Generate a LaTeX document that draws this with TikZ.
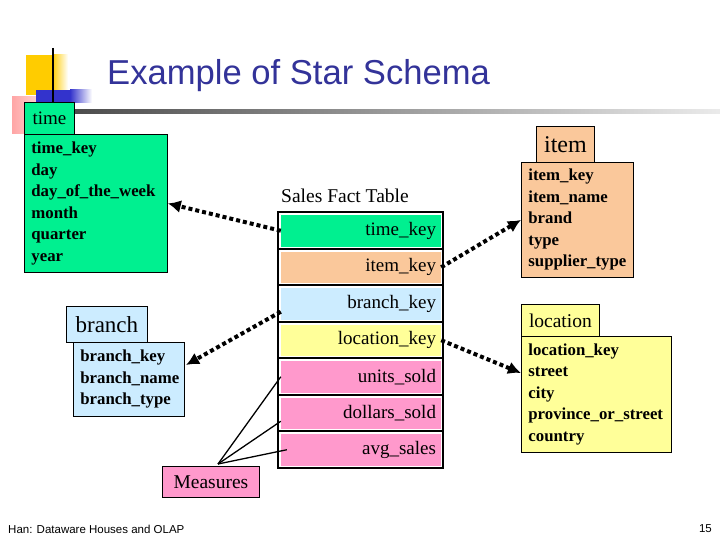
\documentclass[tikz,border=0pt]{standalone}
\usepackage{fontspec}
\setmainfont{Liberation Serif}
\newfontfamily\slidefont{Liberation Sans}
\usepackage{tikz}
\usetikzlibrary{arrows.meta}
\definecolor{keygreen}{RGB}{0,240,144}
\definecolor{keypeach}{RGB}{250,200,155}
\definecolor{keyblue}{RGB}{204,236,255}
\definecolor{keyyellow}{RGB}{255,255,153}
\definecolor{keypink}{RGB}{255,153,204}
\definecolor{titleblue}{RGB}{51,51,153}
\definecolor{decoyellow}{RGB}{255,204,0}
\definecolor{decoblue}{RGB}{51,51,204}
\definecolor{decored}{RGB}{255,165,165}

\begin{document}
\begin{tikzpicture}[x=1pt, y=-1pt,
  hdr/.style={draw, line width=0.8pt, anchor=north west, inner sep=0pt},
  attrs/.style={draw, line width=0.8pt, anchor=north west, inner xsep=7pt, inner ysep=0pt, align=left, font=\bfseries\fontsize{16.8}{21.5}\selectfont},
  factrow/.style={inner xsep=5pt, inner ysep=0pt, text width=150pt, minimum height=31.5pt, align=right, font=\fontsize{19}{22}\selectfont},
  fk/.style={line width=4pt, dash pattern=on 4pt off 3pt, -{Latex[length=13pt,width=13pt]}},
  measure/.style={line width=1.3pt}]

\fill [white] (0,0) rectangle (720,540);
\useasboundingbox (0,0) rectangle (720,540);

% title decoration
\fill [decoyellow] (26,55) rectangle (52,95);
\shade [left color=decoyellow, right color=white] (52,55) rectangle (68,95);
\shade [left color=decored, right color=white] (12,97) rectangle (64,134);
\fill [decoblue] (36,90) rectangle (70,103);
\shade [left color=decoblue, right color=white] (70,90) rectangle (92,103);
\draw [line width=2.5pt] (53,48) -- (53,102);
\shade [left color=black!70, right color=black!8] (74,110) rectangle (720,114);

\node [anchor=base west, inner sep=0pt, text=titleblue, font=\slidefont\fontsize{34.6}{40}\selectfont] (title) at (107,85) {Example of Star Schema};

% dimension tables
\node [hdr, fill=keygreen, minimum width=50pt, minimum height=32pt, font=\fontsize{19}{22}\selectfont] (timehdr) at (24,102) {time};
\node [attrs, fill=keygreen, text width=129pt, minimum height=138pt] (timebody) at (24,134) {time\_key\\day\\day\_of\_the\_week\\month\\quarter\\year};

\node [hdr, fill=keypeach, minimum width=58pt, minimum height=36pt, font=\fontsize{24}{26}\selectfont] (itemhdr) at (536,126) {item};
\node [attrs, fill=keypeach, text width=98pt, minimum height=115pt] (itembody) at (521,162) {item\_key\\item\_name\\brand\\type\\supplier\_type};

\node [hdr, fill=keyyellow, minimum width=78pt, minimum height=32pt, font=\fontsize{19.5}{22}\selectfont] (lochdr) at (521,304) {location};
\node [attrs, fill=keyyellow, text width=136pt, minimum height=116pt] (locbody) at (521,336) {location\_key\\street\\city\\province\_or\_street\\country};

\node [hdr, fill=keyblue, minimum width=81pt, minimum height=36pt, font=\fontsize{23}{26}\selectfont] (branchhdr) at (66,306) {branch};
\node [attrs, fill=keyblue, text width=97pt, minimum height=74pt] (branchbody) at (73,342) {branch\_key\\branch\_name\\branch\_type};

\node [hdr, fill=keypink, minimum width=97pt, minimum height=31pt, font=\fontsize{19.5}{22}\selectfont] (measures) at (162,466) {Measures};

% fact table
\node [font=\fontsize{19.5}{22}\selectfont] (facttitle) at (345,196) {Sales Fact Table};
\draw [line width=2pt] (278,212) rectangle (443,468);
\foreach \name/\txt/\col [count=\i from 0] in {ftime/time\_key/keygreen, fitem/item\_key/keypeach, fbranch/branch\_key/keyblue, floc/location\_key/keyyellow, funits/units\_sold/keypink, fdollars/dollars\_sold/keypink, favg/avg\_sales/keypink}
  {\node [factrow, fill=\col] (\name) at (361,230.75+36.5*\i) {\txt};}
\foreach \y in {248.5,285,321.5,358,394.5,431} {\draw [line width=2pt] (278,\y) -- (443,\y);}

% foreign keys
\coordinate (branchin) at (186,365);
\coordinate (locin) at (521,373);
\draw [fk] (ftime.west) -- (timebody.east);
\draw [fk] (fitem.east) -- (itembody.west);
\draw [fk] ([yshift=-8pt]fbranch.west) -- (branchin);
\draw [fk] (floc.east) -- (locin);

% measures
\coordinate (mtop) at (218,464);
\draw [measure] (mtop) -- (funits.west);
\draw [measure] (mtop) -- ([yshift=-8pt]fdollars.west);
\draw [measure] (mtop) -- ([xshift=6pt]favg.west);

\node [anchor=west, inner sep=0pt, font=\slidefont\fontsize{11.5}{13}\selectfont] (footer) at (8,529) {Han: Dataware Houses and OLAP};
\node [anchor=east, inner sep=0pt, font=\slidefont\fontsize{11.5}{13}\selectfont] (pagenum) at (712,529) {15};

\end{tikzpicture}
\end{document}
